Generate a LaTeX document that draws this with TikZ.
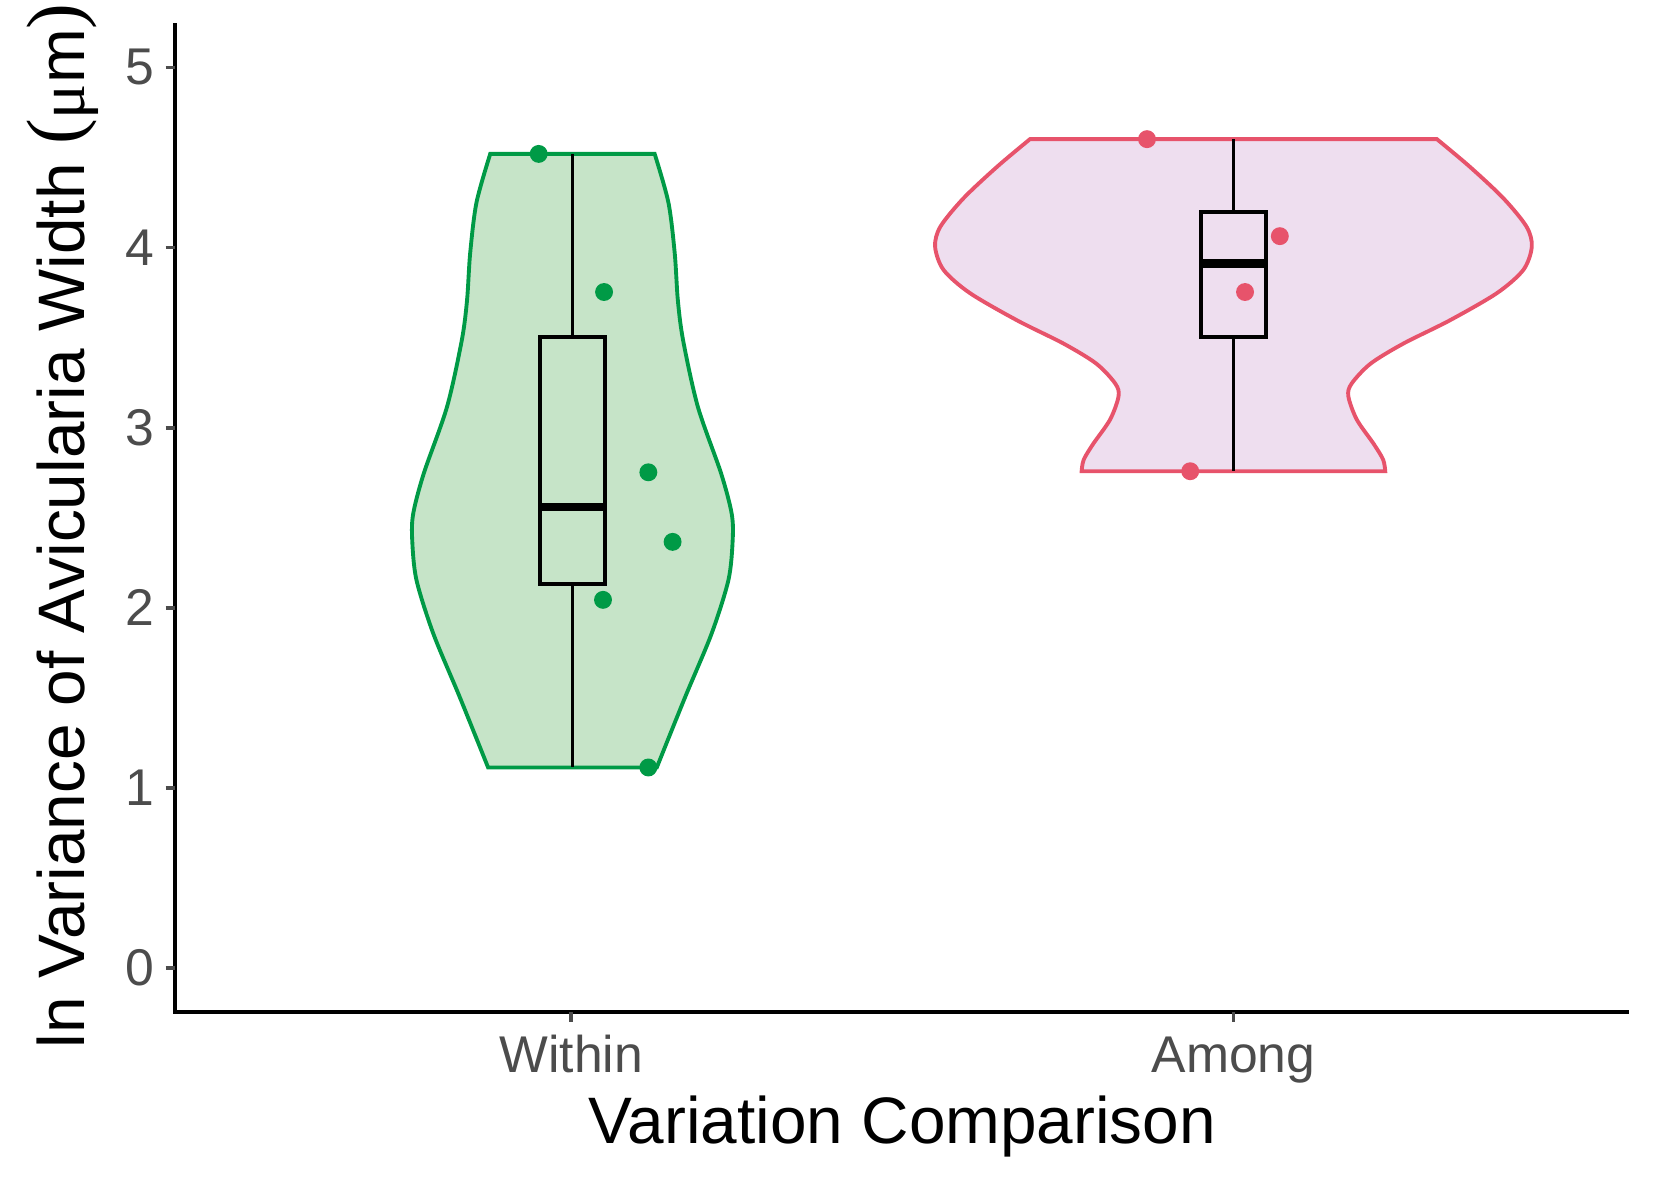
\documentclass[tikz,border=0pt]{standalone}
\usepackage{fontspec}
\setmainfont{Liberation Sans}
\newfontfamily\symbfont{Liberation Serif}
\usepackage{tikz}
\usetikzlibrary{positioning}
\definecolor{within}{HTML}{009A46}
\definecolor{withinfill}{HTML}{C6E4C8}
\definecolor{among}{HTML}{E7536B}
\definecolor{amongfill}{HTML}{EEDEEF}
\colorlet{axistext}{black!70}
\newcommand{\bigparen}[1]{\raisebox{1.1pt}{\symbfont\fontsize{22}{24}\selectfont#1}}
\tikzset{
  axisline/.style={line width=1.1pt},
  ticklabel/.style={text=axistext,inner sep=0pt,font=\fontsize{14.7}{17}\selectfont},
  axistitle/.style={inner sep=0pt,font=\fontsize{18.7}{22}\selectfont},
  violin/.style={line width=1.1pt},
  boxlines/.style={line width=1.1pt},
  median/.style={line width=2.4pt},
}

\begin{document}
\begin{tikzpicture}[x=0.010542cm,y=-0.010542cm]
\useasboundingbox (0,0) rectangle (1568,1120.5);
% violins
\filldraw[violin,draw=within,fill=withinfill]
  plot[smooth] coordinates {(465,146) (452,192) (446,240) (443,285) (438,323) (424,386) (402,449) (392,487) (391,512) (395,550) (411,601) (436,661) (463,728)}
  -- plot[smooth] coordinates {(623,728) (650,661) (675,601) (691,550) (695,512) (694,487) (684,449) (662,386) (648,323) (643,285) (640,240) (634,192) (621,146)}
  -- cycle;
\filldraw[violin,draw=among,fill=amongfill]
  plot[smooth] coordinates {(977,132) (946,158) (914,188) (892,215) (887,234) (895,256) (920,278) (965,304) (1009,326) (1040,345) (1058,364) (1061,376) (1053,398) (1037,421) (1028,436) (1026,447)}
  -- plot[smooth] coordinates {(1314,447) (1312,436) (1303,421) (1287,398) (1279,376) (1282,364) (1300,345) (1331,326) (1375,304) (1420,278) (1445,256) (1453,234) (1448,215) (1426,188) (1394,158) (1363,132)}
  -- cycle;
% boxes
\draw[boxlines] (512,320) rectangle (574,554);
\draw[boxlines] (543,146) -- (543,320) (543,554) -- (543,728);
\draw[median] (512,481) -- (574,481);
\draw[boxlines] (1139,201) rectangle (1201,320);
\draw[boxlines] (1170,132) -- (1170,201) (1170,320) -- (1170,447);
\draw[median] (1139,250) -- (1201,250);
% points
\foreach \px/\py in {511/146, 573/277, 615/448, 638/514, 572/569, 615/728}
  \fill[within] (\px,\py) circle[radius=8.5];
\foreach \px/\py in {1088/132, 1214/224, 1181/277, 1129/447}
  \fill[among] (\px,\py) circle[radius=8.5];
% axes
\draw[axisline] (166,22) -- (166,960) -- (1545,960);
\foreach \v in {0,...,5}
{
  \draw[axisline,axistext] (157,{918-170.8*\v}) -- (166,{918-170.8*\v});
  \node[ticklabel,anchor=east] (ytick\v) at (147,{918-170.8*\v}) {\v};
}
\foreach \gx/\gname in {542/Within, 1170/Among}
{
  \draw[axisline,axistext] (\gx,960) -- (\gx,969);
  \node[ticklabel,anchor=base] (xtick\gname) at (\gx,1017) {\gname};
}
\node[axistitle,anchor=base] (xtitle) at (856,1085) {Variation Comparison};
\node[axistitle,anchor=base west,rotate=90] (ytitle) at (80,995)
  {ln Variance of Avicularia Width \bigparen{(}{\symbfont μ}m\bigparen{)}};
\end{tikzpicture}
\end{document}
